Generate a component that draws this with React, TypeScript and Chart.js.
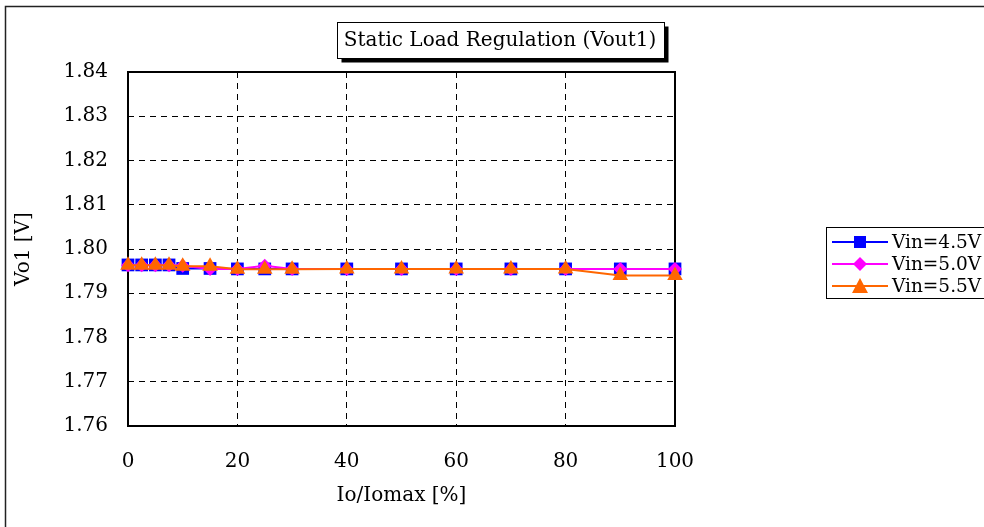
import { useEffect, useRef } from 'react';
import { Chart, registerables } from 'chart.js';

Chart.register(...registerables);

const loadPct = [0, 2.5, 5, 7.5, 10, 15, 20, 25, 30, 40, 50, 60, 70, 80, 90, 100];
const vin45 = [1.7964, 1.7964, 1.7964, 1.7964, 1.7956, 1.7956, 1.7955, 1.7955, 1.7955, 1.7955, 1.7955, 1.7955, 1.7955, 1.7955, 1.7955, 1.7955];
const vin50 = [1.7963, 1.7963, 1.7963, 1.7963, 1.7962, 1.7955, 1.7955, 1.7962, 1.7955, 1.7955, 1.7955, 1.7955, 1.7955, 1.7955, 1.7955, 1.7955];
const vin55 = [1.7963, 1.7963, 1.7963, 1.7963, 1.7961, 1.7961, 1.7954, 1.7954, 1.7954, 1.7955, 1.7955, 1.7955, 1.7955, 1.7955, 1.7940, 1.7940];
const seriesLabels = ['Vin=4.5V', 'Vin=5.0V', 'Vin=5.5V'];
const seriesColors = ['#0000FF', '#FF00FF', '#FF6600'];
const seriesMarkers = ['rect', 'rectRot', 'triangle'];
const yTicks = [1.76, 1.77, 1.78, 1.79, 1.8, 1.81, 1.82, 1.83, 1.84];
const xTicks = [0, 20, 40, 60, 80, 100];
const titleText = 'Static Load Regulation (Vout1)';
const xTitle = 'Io/Iomax [%]';
const yTitle = 'Vo1 [V]';

const FONT = '"DejaVu Serif", serif';

function drawMarker(ctx: CanvasRenderingContext2D, style: string, x: number, y: number, color: string) {
  ctx.save();
  ctx.fillStyle = color;
  ctx.beginPath();
  if (style === 'rect') {
    ctx.rect(x - 6, y - 6, 12, 12);
  } else if (style === 'rectRot') {
    ctx.moveTo(x, y - 7);
    ctx.lineTo(x + 7, y);
    ctx.lineTo(x, y + 7);
    ctx.lineTo(x - 7, y);
    ctx.closePath();
  } else {
    ctx.moveTo(x, y - 8);
    ctx.lineTo(x + 8, y + 7);
    ctx.lineTo(x - 8, y + 7);
    ctx.closePath();
  }
  ctx.fill();
  ctx.restore();
}

const decor = {
  id: 'decor',
  beforeDraw(chart: any) {
    const ctx = chart.ctx as CanvasRenderingContext2D;
    ctx.save();
    ctx.fillStyle = '#fff';
    ctx.fillRect(0, 0, chart.width, chart.height);
    ctx.strokeStyle = '#222';
    ctx.lineWidth = 1.5;
    ctx.beginPath();
    ctx.moveTo(5.5, chart.height + 2);
    ctx.lineTo(5.5, 6.5);
    ctx.lineTo(chart.width + 2, 6.5);
    ctx.stroke();
    ctx.restore();
  },
  beforeDatasetsDraw(chart: any) {
    const ctx = chart.ctx as CanvasRenderingContext2D;
    const { left, top, right, bottom } = chart.chartArea;
    ctx.save();
    ctx.strokeStyle = '#000';
    ctx.lineWidth = 2;
    ctx.strokeRect(left, top, right - left, bottom - top);
    ctx.restore();
  },
  afterDraw(chart: any) {
    const ctx = chart.ctx as CanvasRenderingContext2D;
    ctx.save();
    // title box
    ctx.font = '20px ' + FONT;
    const w = ctx.measureText(titleText).width;
    const cx = 500;
    const cy = 40;
    const bx = Math.round(cx - w / 2 - 7) + 0.5;
    const bw = Math.round(w + 14);
    const by = 22.5;
    const bh = 36;
    ctx.fillStyle = '#000';
    ctx.fillRect(bx + 4, by + 4, bw, bh);
    ctx.fillStyle = '#fff';
    ctx.fillRect(bx, by, bw, bh);
    ctx.strokeStyle = '#000';
    ctx.lineWidth = 1;
    ctx.strokeRect(bx, by, bw, bh);
    ctx.fillStyle = '#000';
    ctx.textAlign = 'center';
    ctx.textBaseline = 'middle';
    ctx.fillText(titleText, cx, cy + 1);

    // legend
    ctx.strokeStyle = '#000';
    ctx.lineWidth = 1;
    ctx.strokeRect(826.5, 227.5, 170, 71);
    ctx.font = '18.5px ' + FONT;
    ctx.textAlign = 'left';
    ctx.textBaseline = 'middle';
    seriesLabels.forEach((lab, i) => {
      const y = 242 + 22 * i;
      ctx.strokeStyle = seriesColors[i];
      ctx.lineWidth = 2;
      ctx.beginPath();
      ctx.moveTo(832, y);
      ctx.lineTo(888, y);
      ctx.stroke();
      drawMarker(ctx, seriesMarkers[i], 860, y, seriesColors[i]);
      ctx.fillStyle = '#000';
      ctx.fillText(lab, 892, y + 1);
    });
    ctx.restore();
  },
};

export default function App() {
  const ref = useRef<HTMLCanvasElement | null>(null);
  useEffect(() => {
    document.body.style.margin = '0';
    const canvas = ref.current;
    if (!canvas) return;
    const series = [vin45, vin50, vin55];
    const chart = new Chart(canvas, {
      type: 'line',
      data: {
        datasets: series.map((vals, i) => ({
          label: seriesLabels[i],
          data: loadPct.map((x, j) => ({ x, y: vals[j] })),
          borderColor: seriesColors[i],
          backgroundColor: seriesColors[i],
          pointBackgroundColor: seriesColors[i],
          pointBorderColor: seriesColors[i],
          pointStyle: seriesMarkers[i] as any,
          pointRadius: i === 0 ? 9 : i === 1 ? 7 : 9,
          pointBorderWidth: 0,
          borderWidth: 2,
          tension: 0,
          clip: false as any,
          order: 2 - i,
        })),
      },
      options: {
        responsive: false,
        animation: false,
        events: [],
        layout: { padding: { left: 0, top: 72, right: 309, bottom: 0 } },
        plugins: {
          legend: { display: false },
          title: { display: false },
          tooltip: { enabled: false },
        },
        scales: {
          x: {
            type: 'linear',
            min: 0,
            max: 100,
            afterFit: (s: any) => { s.height = 101; },
            afterBuildTicks: (s: any) => { s.ticks = xTicks.map((v) => ({ value: v })); },
            ticks: { font: { family: FONT, size: 20 }, color: '#000', padding: 24, maxRotation: 0, autoSkip: false },
            grid: { color: '#000', lineWidth: 1, drawTicks: false },
            border: { display: false, dash: [6, 5] },
            title: { display: true, text: xTitle, font: { family: FONT, size: 20 }, color: '#000', padding: { top: 0, bottom: 19 } },
          },
          y: {
            type: 'linear',
            min: 1.76,
            max: 1.84,
            afterFit: (s: any) => { s.width = 128; },
            afterBuildTicks: (s: any) => { s.ticks = yTicks.map((v) => ({ value: v })); },
            ticks: { font: { family: FONT, size: 20 }, color: '#000', padding: 20, autoSkip: false, callback: (v: any) => Number(v).toFixed(2) },
            grid: { color: '#000', lineWidth: 1, drawTicks: false },
            border: { display: false, dash: [6, 5] },
            title: { display: true, text: yTitle, font: { family: FONT, size: 20 }, color: '#000', padding: { top: 12, bottom: 0 } },
          },
        },
      },
      plugins: [decor],
    });
    return () => chart.destroy();
  }, []);
  return (
    <div style={{ width: 984, height: 527 }}>
      <canvas ref={ref} width={984} height={527} style={{ display: 'block' }} />
    </div>
  );
}
